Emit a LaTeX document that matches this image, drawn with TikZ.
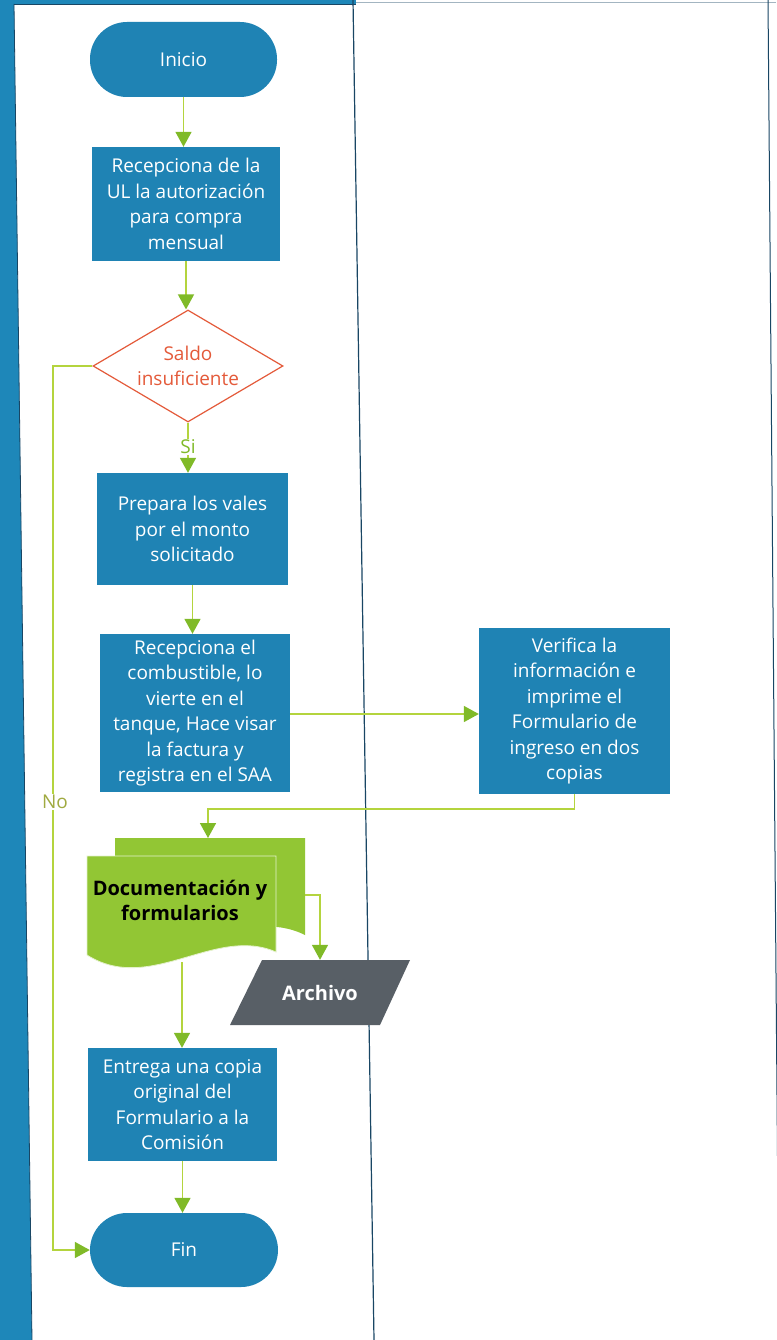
\documentclass[tikz,border=0pt]{standalone}
\usepackage{fontspec}
\setmainfont{Open Sans}
\usetikzlibrary{arrows.meta,shapes.geometric}
\definecolor{boxblue}{RGB}{31,131,180}
\definecolor{bandblue}{RGB}{30,135,185}
\definecolor{linegreen}{RGB}{180,212,62}
\definecolor{headgreen}{RGB}{128,186,40}
\definecolor{docgreen}{RGB}{146,198,52}
\definecolor{archgray}{RGB}{88,95,102}
\definecolor{decred}{RGB}{228,90,58}
\definecolor{lanedark}{RGB}{25,70,100}
\definecolor{nolabel}{RGB}{160,170,64}
\begin{document}
\begin{tikzpicture}[x=1pt,y=-1pt,
  txt/.style={font=\fontsize{19}{25.5}\selectfont},
  proc/.style={txt, fill=boxblue, text=white, align=center, inner sep=0pt},
  term/.style={txt, fill=boxblue, text=white, rounded corners=37pt, inner sep=0pt},
  dec/.style={diamond, draw=decred, line width=1.2pt, fill=white, inner sep=0pt, minimum width=190pt, minimum height=112pt},
  dectext/.style={txt, text=decred, align=center, inner sep=0pt},
  flow/.style={draw=linegreen, line width=1.6pt, -{Triangle[width=16pt,length=15pt,color=headgreen]}},
  lbl/.style={txt, fill=white, inner sep=1pt},
  boldtxt/.style={font=\fontsize{20}{25}\selectfont\bfseries, align=center, inner sep=0pt}
]
\useasboundingbox (0,0) rectangle (776,1340);
\fill[white] (0,0) rectangle (776,1340);
% swimlanes
\fill[bandblue] (0,0) -- (14,0) -- (32,1340) -- (0,1340) -- cycle;
\fill[bandblue] (0,0) rectangle (356,4);
\draw[lanedark, line width=0.8pt] (14,4) -- (32,1340);
\draw[lanedark, line width=0.8pt] (14,4) -- (356,4);
\draw[lanedark!40, line width=0.6pt] (356,2) -- (776,2);
\draw[lanedark, line width=1.2pt] (353,0) -- (374,1340);
\draw[lanedark, line width=1pt] (768,0) -- (779,1340);

% nodes
\node[term, minimum width=187pt, minimum height=75pt] (inicio) at (183.5,59.5) {Inicio};
\node[proc, minimum width=188pt, minimum height=114pt] (p1) at (186,204) {Recepciona de la\\UL la autorización\\para compra\\mensual};
\node[dec] (d) at (188,366) {};
\node[dectext] (dt) at (d) {Saldo\\insuficiente};
\node[proc, minimum width=191pt, minimum height=112pt] (p2) at (192.5,529) {Prepara los vales\\por el monto\\solicitado};
\node[proc, minimum width=190pt, minimum height=158pt] (p3) at (195,713) {Recepciona el\\combustible, lo\\vierte en el\\tanque, Hace visar\\la factura y\\registra en el SAA};
\node[proc, minimum width=191pt, minimum height=166pt] (p4) at (574.5,711) {Verifica la\\información e\\imprime el\\Formulario de\\ingreso en dos\\copias};

% document shapes
\fill[docgreen] (115,838) -- (305,838) -- (305,935) .. controls (245,905) and (175,965) .. (115,940) -- cycle;
\fill[docgreen, draw=white!75!docgreen, line width=0.8pt] (87,856) -- (276,856) -- (276,952) .. controls (215,925) and (150,995) .. (87,955) -- cycle;
\node[boldtxt] (doc) at (180,900) {Documentación y\\formularios};
\coordinate (doctop) at (208,838);
\coordinate (docright) at (305,895);
\coordinate (docbot) at (182,962);

% archivo
\fill[archgray] (262,960) -- (410,960) -- (380,1025) -- (230,1025) -- cycle;
\node[boldtxt, text=white, minimum width=150pt, minimum height=65pt] (arch) at (320,992.5) {Archivo};

\node[proc, minimum width=189pt, minimum height=113pt] (p5) at (182.5,1104.5) {Entrega una copia\\original del\\Formulario a la\\Comisión};
\node[term, minimum width=188pt, minimum height=74pt] (fin) at (184,1250) {Fin};

% connectors
\draw[flow] (inicio.south) -- (inicio.south |- p1.north);
\draw[flow] (p1.south) -- (p1.south |- d.north);
\draw[flow] (d.south) -- (d.south |- p2.north);
\node[lbl, text=headgreen] (si) at (188,447) {Si};
\draw[flow] (p2.south) -- (p2.south |- p3.north);
\draw[flow] (p3.east |- 0,714) -- (p4.west |- 0,714);
\coordinate (j1) at (208,809);
\draw[flow] (p4.south) |- (j1) -- (doctop);
\coordinate (j2) at (320,895);
\draw[flow] (docright) -- (j2) -- (arch.north);
\draw[flow] (docbot) -- (docbot |- p5.north);
\draw[flow] (p5.south) -- (p5.south |- fin.north);
\coordinate (nocorner) at (53,1250);
\draw[flow] (d.west) -| (nocorner) -- (fin.west);
\node[lbl, text=nolabel] (no) at (55,802) {No};
\end{tikzpicture}
\end{document}
